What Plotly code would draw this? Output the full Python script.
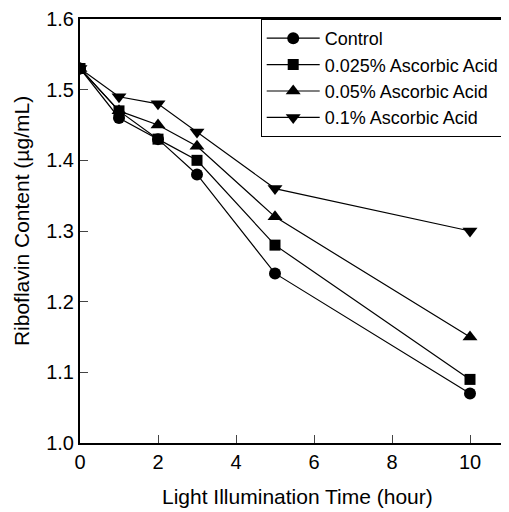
import plotly.graph_objects as go

time_h = [0, 1, 2, 3, 5, 10]
control = [1.53, 1.46, 1.43, 1.38, 1.24, 1.07]
aa_0025 = [1.53, 1.47, 1.43, 1.40, 1.28, 1.09]
aa_005 = [1.53, 1.47, 1.45, 1.42, 1.32, 1.15]
aa_01 = [1.53, 1.49, 1.48, 1.44, 1.36, 1.30]

series_names = ["Control", "0.025% Ascorbic Acid", "0.05% Ascorbic Acid", "0.1% Ascorbic Acid"]
series_vals = [control, aa_0025, aa_005, aa_01]
symbols = ["circle", "square", "triangle-up", "triangle-down"]
sizes = [12, 11, 13, 13]

x_ticks = [0, 2, 4, 6, 8, 10]
y_ticks = [1.0, 1.1, 1.2, 1.3, 1.4, 1.5, 1.6]
x_title = "Light Illumination Time (hour)"
y_title = "Riboflavin Content (\u00b5g/mL)"

fig = go.Figure()
for name, vals, sym, sz in zip(series_names, series_vals, symbols, sizes):
    fig.add_trace(go.Scatter(
        x=time_h, y=vals, name=name, mode="lines+markers",
        line=dict(color="black", width=1.2),
        marker=dict(symbol=sym, size=sz, color="black"),
    ))

font = "Liberation Sans, Arial, sans-serif"
fig.update_layout(
    width=501, height=504,
    margin=dict(l=72, r=0, t=11, b=69, autoexpand=False),
    plot_bgcolor="white", paper_bgcolor="white",
    font=dict(family=font, size=20, color="black"),
    showlegend=True,
    legend=dict(
        x=0.99, y=1.0, xanchor="right", yanchor="top",
        bordercolor="black", borderwidth=1, bgcolor="white",
        font=dict(size=18, family=font), tracegroupgap=0,
        itemwidth=53,
    ),
    xaxis=dict(
        range=[0, 11], tickvals=x_ticks, ticktext=[str(t) for t in x_ticks],
        ticks="inside", ticklen=8, tickcolor="#444", tickwidth=1,
        tickfont=dict(size=20, family=font),
        showline=True, linecolor="black", linewidth=2, mirror=True,
        showgrid=False, zeroline=False,
    ),
    yaxis=dict(
        range=[1.0, 1.6], tickvals=y_ticks, ticktext=[f"{t:.1f}" for t in y_ticks],
        ticks="inside", ticklen=8, tickcolor="#444", tickwidth=1,
        tickfont=dict(size=20, family=font),
        showline=True, linecolor="black", linewidth=2, mirror=True,
        showgrid=False, zeroline=False,
    ),
    annotations=[
        dict(text=x_title, xref="paper", yref="paper", x=0.507, y=-0.125,
             xanchor="center", yanchor="middle", showarrow=False, font=dict(size=21)),
        dict(text=y_title, xref="paper", yref="paper", x=-0.135, y=0.5236,
             xanchor="center", yanchor="middle", showarrow=False, textangle=-90,
             font=dict(size=21)),
    ],
)
fig.write_html("out.html")
